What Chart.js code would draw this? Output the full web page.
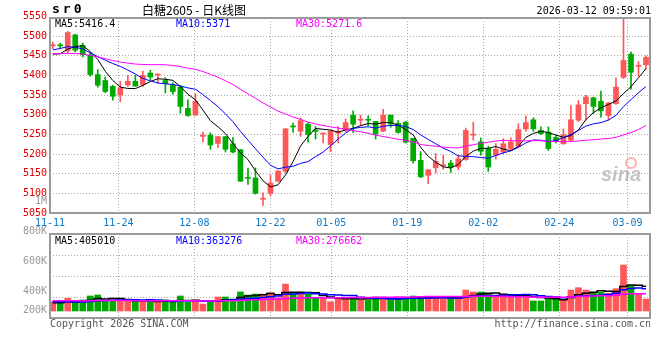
<!DOCTYPE html>
<html><head><meta charset="utf-8">
<script src="https://cdn.jsdelivr.net/npm/chart.js@4.4.1/dist/chart.umd.min.js"></script>
<style>
html,body{margin:0;padding:0;background:#fff;}
#wrap{position:relative;width:660px;height:360px;overflow:hidden;background:#fff;}
#c1{position:absolute;left:0;top:0;}
#c2{position:absolute;left:0;top:190px;}
</style></head><body>
<div id="wrap"><canvas id="c1" width="660" height="232"></canvas><canvas id="c2" width="660" height="170"></canvas></div>
<script>
// ---------- data ----------
const dates = ['11-11','11-12','11-13','11-14','11-17','11-18','11-19','11-20','11-21',
 '11-24','11-25','11-26','11-27','11-28','12-01','12-02','12-03','12-04','12-05',
 '12-08','12-09','12-10','12-11','12-12','12-15','12-16','12-17','12-18','12-19',
 '12-22','12-23','12-24','12-25','12-26','12-29','12-30','12-31',
 '01-05','01-06','01-07','01-08','01-09','01-12','01-13','01-14','01-15','01-16',
 '01-19','01-20','01-21','01-22','01-23','01-26','01-27','01-28','01-29','01-30',
 '02-02','02-03','02-04','02-05','02-06','02-09','02-10','02-11','02-12','02-13',
 '02-24','02-25','02-26','02-27','03-02','03-03','03-04','03-05','03-06',
 '03-09','03-10','03-11','03-12'];
const dateTicks = ['11-11','11-24','12-08','12-22','01-05','01-19','02-02','02-24','03-09'];

const opens = [5475,5478,5462,5503,5476,5452,5402,5387,5372,5350,
 5376,5385,5377,5406,5401,5387,5375,5370,5316,5299,
 5245,5248,5227,5244,5226,5211,5140,5139,5085,5100,
 5131,5156,5271,5258,5276,5261,5251,5224,5253,5259,
 5299,5286,5288,5283,5258,5299,5278,5281,5240,5184,
 5146,5165,5170,5177,5167,5186,5248,5231,5214,5197,
 5205,5214,5220,5264,5287,5260,5256,5242,5226,5235,
 5286,5328,5343,5334,5298,5328,5395,5454,5423,5427];
const highs = [5485,5482,5512,5505,5482,5458,5415,5396,5375,5385,
 5400,5400,5411,5413,5404,5394,5381,5374,5338,5353,
 5256,5254,5245,5245,5242,5212,5164,5165,5101,5147,
 5158,5265,5279,5292,5280,5270,5253,5260,5270,5289,
 5310,5299,5297,5283,5314,5299,5285,5283,5240,5206,
 5160,5201,5197,5184,5197,5266,5281,5241,5220,5227,
 5239,5241,5277,5297,5292,5269,5269,5248,5264,5323,
 5336,5349,5345,5360,5331,5394,5543,5459,5435,5450];
const lows = [5468,5470,5458,5460,5447,5398,5370,5356,5337,5333,
 5372,5372,5372,5388,5380,5355,5352,5304,5296,5298,
 5231,5212,5216,5205,5203,5130,5123,5098,5069,5093,
 5129,5153,5255,5245,5230,5238,5228,5206,5228,5257,
 5255,5272,5272,5238,5257,5268,5253,5228,5177,5140,
 5125,5152,5161,5153,5160,5184,5235,5197,5156,5187,
 5201,5210,5218,5258,5258,5250,5209,5228,5225,5233,
 5283,5286,5303,5294,5286,5326,5392,5365,5398,5416];
const closes = [5478,5475,5509,5464,5453,5402,5375,5359,5347,5368,
 5385,5373,5400,5396,5403,5379,5359,5321,5298,5334,
 5248,5223,5244,5212,5205,5131,5138,5100,5087,5126,
 5157,5264,5269,5285,5250,5258,5253,5259,5258,5280,
 5276,5288,5286,5251,5299,5276,5255,5230,5183,5142,
 5160,5181,5172,5167,5188,5260,5250,5207,5167,5212,
 5226,5231,5262,5280,5264,5252,5214,5232,5249,5287,
 5325,5345,5321,5310,5330,5370,5438,5408,5425,5446];
const volumes = [152e3,128e3,208e3,128e3,180e3,246e3,262e3,164e3,164e3,180e3,
 164e3,164e3,164e3,142e3,142e3,180e3,142e3,246e3,142e3,180e3,
 114e3,142e3,230e3,230e3,196e3,312e3,262e3,278e3,278e3,300e3,
 218e3,442e3,290e3,290e3,274e3,208e3,218e3,152e3,218e3,218e3,
 218e3,180e3,180e3,230e3,230e3,180e3,180e3,230e3,246e3,230e3,
 230e3,208e3,208e3,208e3,208e3,344e3,312e3,312e3,274e3,230e3,
 246e3,262e3,262e3,262e3,164e3,164e3,208e3,208e3,180e3,344e3,
 382e3,344e3,290e3,306e3,290e3,366e3,754e3,416e3,290e3,196e3];
// sessions before the visible window (estimated from where the MA lines start)
const closesBefore = [5470,5478,5485,5492,5500,5495,5488,5490,5484,
 5465,5448,5430,5412,5400,5395,5405,5410,5418,5425,5410,
 5440,5462,5480,5495,5503,5470,5450,5432,5440];
const volumesBefore = [190e3,170e3,185e3,200e3,165e3,175e3,180e3,160e3,170e3,190e3,
 185e3,175e3,168e3,180e3,172e3,165e3,178e3,185e3,170e3,180e3,
 160e3,185e3,170e3,175e3,160e3,140e3,125e3,135e3,128e3];

const priceTicks = [5550,5500,5450,5400,5350,5300,5250,5200,5150,5100,5050];
const volumeAxisLabels = ['1M','800K','600K','400K','200K'];
const volumeAxisValues = [1000000,800000,600000,400000,200000];
const symbolText = 'sr0';
const titleText = '白糖2605 - 日K线图';
const timeText = '2026-03-12 09:59:01';
const priceLegend = ['MA5:5416.4','MA10:5371','MA30:5271.6'];
const volumeLegend = ['MA5:405010','MA10:363276','MA30:276662'];
const copyrightText = 'Copyright 2026 SINA.COM';
const urlText = 'http://finance.sina.com.cn';

// ---------- helpers ----------
function movingAvg(series, before, n){
  const all = before.concat(series);
  return series.map((_, i) => {
    let s = 0;
    for (let k = 0; k < n; k++) s += all[before.length + i - k];
    return s / n;
  });
}
const RED = '#ff5757', GREEN = '#00aa00';
const MA_COLORS = ['#000000','#0000ff','#ff00ff'];
const isUp = i => closes[i] >= opens[i];
const candleColor = ctx => isUp(ctx.dataIndex) ? RED : GREEN;
const MONO = '"DejaVu Sans Mono", "Liberation Mono", monospace';
const GRID = '#a8a8a8';
const tickIdx = dateTicks.map(d => dates.indexOf(d));
const priceMA = [5,10,30].map(n => movingAvg(closes, closesBefore, n));
const volMA = [5,10,30].map(n => movingAvg(volumes, volumesBefore, n));
const pts = arr => arr.map((v, i) => ({x: i, y: v}));

const xCandle = {type:'linear', display:false, offset:false, grid:{offset:false}, min:-0.36, max:79.53};
function xGridAxis(showLabels){
  return {
    type:'linear', position:'bottom', min:0, max:78.95, offset:false,
    afterBuildTicks: s => { s.ticks = tickIdx.map(v => ({value: v})); },
    afterFit: s => { s.height = showLabels ? 19 : 0; },
    ticks:{display:showLabels, autoSkip:false, maxRotation:0, padding:4,
      color:'#0a78c8', font:{family:MONO, size:10},
      callback: v => dates[v]},
    grid:{color:GRID, lineWidth:1, drawTicks:false, offset:false},
    border:{display:false, dash:[1,2]}
  };
}
const framePlugin = {
  id:'frame',
  afterDatasetsDraw(chart){
    const {ctx, chartArea:a} = chart;
    ctx.save();
    ctx.strokeStyle = '#9a9a9a'; ctx.lineWidth = 2;
    ctx.strokeRect(Math.round(a.left), Math.round(a.top), Math.round(a.right - a.left), Math.round(a.bottom - a.top));
    ctx.restore();
  }
};

// ---------- price chart ----------
const priceText = {
  id:'priceText',
  afterDraw(chart){
    const {ctx, chartArea:a} = chart;
    ctx.save();
    ctx.textBaseline = 'middle';
    ctx.fillStyle = '#000';
    ctx.font = 'bold 13px ' + MONO;
    ctx.letterSpacing = '3px';
    ctx.fillText(symbolText, a.left + 2, 10);
    ctx.letterSpacing = '0px';
    ctx.font = '12px "Noto Sans CJK SC"';
    ctx.fillText(titleText, 142, 10);
    ctx.font = '10px ' + MONO;
    ctx.textAlign = 'right';
    ctx.fillText(timeText, a.right + 1, 11);
    ctx.textAlign = 'left';
    const lx = [a.left + 5, 176, 296];
    priceLegend.forEach((t, i) => { ctx.fillStyle = MA_COLORS[i]; ctx.fillText(t, lx[i], a.top + 6); });
    // watermark
    ctx.font = 'italic bold 20px "Liberation Sans", Arial, sans-serif';
    ctx.fillStyle = 'rgba(150,150,150,0.55)';
    ctx.fillText('sina', a.right - 49, a.bottom - 38);
    ctx.strokeStyle = 'rgba(255,110,110,0.55)'; ctx.lineWidth = 2;
    ctx.beginPath(); ctx.arc(a.right - 19, a.bottom - 50, 5, 0, Math.PI * 2); ctx.stroke();
    ctx.restore();
  }
};

new Chart(document.getElementById('c1'), {
  type:'bar',
  data:{datasets:[
    {type:'bar', data: dates.map((d, i) => ({x:i, y:[lows[i], highs[i]]})),
     backgroundColor:candleColor, barThickness:1, grouped:false, xAxisID:'x', yAxisID:'y', order:5},
    {type:'bar', data: dates.map((d, i) => ({x:i, y:[Math.min(opens[i], closes[i]), Math.max(opens[i], closes[i])]})),
     backgroundColor:candleColor, barThickness:5, minBarLength:1, grouped:false, xAxisID:'x', yAxisID:'y', order:4},
    ...priceMA.map((m, k) => ({type:'line', data:pts(m), borderColor:MA_COLORS[k], borderWidth:1,
      pointRadius:0, tension:0, xAxisID:'x', yAxisID:'y', order:3 - k}))
  ]},
  options:{
    responsive:false, animation:false, events:[],
    layout:{padding:{top:18, right:10, left:0, bottom:0}},
    plugins:{legend:{display:false}, tooltip:{enabled:false}},
    scales:{
      x: xCandle,
      xg: xGridAxis(true),
      y:{type:'linear', position:'left', min:5050, max:5546,
        afterBuildTicks: s => { s.ticks = priceTicks.map(v => ({value:v})); },
        afterFit: s => { s.width = 50; },
        ticks:{autoSkip:false, padding:3, color:'#e00000', font:{family:MONO, size:10}, callback: v => String(v)},
        grid:{color: c => (c.tick && c.tick.value > 5545) ? 'rgba(0,0,0,0)' : GRID, drawTicks:false},
        border:{display:false, dash:[1,2]}}
    }
  },
  plugins:[framePlugin, priceText]
});

// ---------- volume chart ----------
const volumeText = {
  id:'volumeText',
  afterDraw(chart){
    const {ctx, chartArea:a} = chart;
    ctx.save();
    ctx.textBaseline = 'middle';
    ctx.font = '10px ' + MONO;
    const lx = [a.left + 5, 176, 296];
    volumeLegend.forEach((t, i) => { ctx.fillStyle = MA_COLORS[i]; ctx.fillText(t, lx[i], a.top + 7); });
    ctx.fillStyle = '#999';
    ctx.textAlign = 'right';
    volumeAxisValues.forEach((v, i) => {
      const y = Math.min(a.bottom + 33 - v / 200000 * 30, a.bottom - 8);
      ctx.fillText(volumeAxisLabels[i], a.left - 3, y);
    });
    ctx.fillStyle = '#555';
    ctx.fillText(urlText, a.right + 1, a.bottom + 6);
    ctx.textAlign = 'left';
    ctx.fillText(copyrightText, a.left, a.bottom + 6);
    ctx.restore();
  }
};

new Chart(document.getElementById('c2'), {
  type:'bar',
  data:{datasets:[
    {type:'bar', data:pts(volumes), backgroundColor:candleColor, barThickness:6, grouped:false,
     xAxisID:'x', yAxisID:'y', order:4},
    ...volMA.map((m, k) => ({type:'line', data:pts(m), borderColor:MA_COLORS[k], borderWidth:1.5,
      stepped:'middle', pointRadius:0, xAxisID:'x', yAxisID:'y', order:3 - k}))
  ]},
  options:{
    responsive:false, animation:false, events:[],
    layout:{padding:{top:44, right:10, left:0, bottom:42}},
    plugins:{legend:{display:false}, tooltip:{enabled:false}},
    scales:{
      x: xCandle,
      xg: xGridAxis(false),
      y:{type:'linear', display:false, min:-115000, max:1263000},
      yg:{type:'linear', position:'left', min:0, max:4,
        afterFit: s => { s.width = 50; },
        ticks:{display:false, stepSize:1},
        grid:{color: c => (c.tick && (c.tick.value === 0 || c.tick.value === 4)) ? 'rgba(0,0,0,0)' : GRID, drawTicks:false},
        border:{display:false, dash:[1,2]}}
    }
  },
  plugins:[framePlugin, volumeText]
});
</script>
</body></html>
